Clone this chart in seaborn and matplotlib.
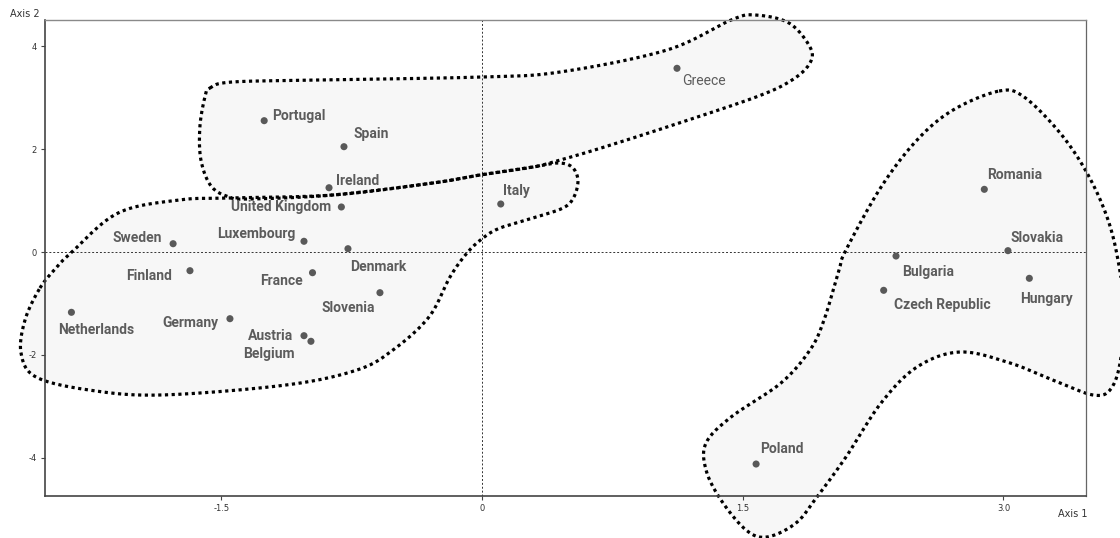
import numpy as np
import pandas as pd
import matplotlib
matplotlib.use("Agg")
import matplotlib.pyplot as plt
import seaborn as sns

countries = ["Portugal", "Spain", "Ireland", "United Kingdom", "Italy", "Greece",
             "Sweden", "Luxembourg", "Denmark", "Finland", "France", "Slovenia",
             "Netherlands", "Germany", "Austria", "Belgium",
             "Romania", "Slovakia", "Bulgaria", "Czech Republic", "Hungary", "Poland"]
axis1 = [-1.253, -0.794, -0.880, -0.809, 0.108, 1.122,
         -1.777, -1.024, -0.771, -1.680, -0.975, -0.587,
         -2.362, -1.450, -1.024, -0.984,
         2.890, 3.026, 2.382, 2.311, 3.149, 1.577]
axis2 = [2.550, 2.045, 1.248, 0.874, 0.932, 3.567,
         0.161, 0.208, 0.064, -0.363, -0.402, -0.790,
         -1.171, -1.295, -1.625, -1.734,
         1.217, 0.026, -0.078, -0.744, -0.511, -4.117]

# cluster outlines (axis units)
south_x = [-1.565, -1.438, -0.926, 0.0, 0.449, 1.064, 1.433, 1.571, 1.766, 1.887, 1.887, 1.784,
           1.577, 1.064, 0.667, 0.449, 0.293, -0.012, -0.282, -0.857, -1.335, -1.456, -1.559,
           -1.617, -1.623, -1.594]
south_y = [3.184, 3.301, 3.340, 3.398, 3.495, 3.922, 4.505, 4.602, 4.447, 3.981, 3.670, 3.340,
           3.010, 2.427, 2.000, 1.786, 1.650, 1.495, 1.340, 1.107, 1.029, 1.068, 1.282,
           1.786, 2.427, 3.010]
west_x = [-2.543, -2.445, -2.365, -2.094, -1.743, -1.456, -0.857, -0.282, -0.012, 0.293, 0.437,
          0.518, 0.552, 0.529, 0.466, 0.293, 0.104, 0.006, -0.086, -0.184, -0.305, -0.512,
          -0.719, -1.128, -1.847, -2.261, -2.566, -2.652, -2.629]
west_y = [-0.699, -0.291, -0.019, 0.757, 1.010, 1.049, 1.107, 1.340, 1.495, 1.650, 1.728,
          1.650, 1.398, 1.068, 0.854, 0.660, 0.466, 0.272, -0.019, -0.485, -1.262, -1.903,
          -2.291, -2.583, -2.777, -2.680, -2.427, -1.961, -1.320]
east_x = [2.975, 3.119, 3.326, 3.481, 3.596, 3.659, 3.694, 3.671, 3.613, 3.516, 3.326, 3.038,
          2.750, 2.503, 2.296, 2.094, 1.927, 1.807, 1.640, 1.519, 1.375, 1.289, 1.289, 1.433,
          1.720, 1.887, 1.968, 2.054, 2.094, 2.296, 2.503, 2.710]
east_y = [3.126, 3.010, 2.311, 1.534, 0.680, -0.155, -1.126, -2.155, -2.680, -2.777, -2.544,
          -2.155, -1.942, -2.233, -2.932, -3.981, -4.757, -5.262, -5.534, -5.398, -4.816,
          -4.233, -3.709, -3.204, -2.544, -1.903, -1.320, -0.350, 0.039, 1.262, 2.175, 2.757]

# label placement: (dx, dy) in pixels, horizontal alignment
label_pos = {
    "Portugal": (8, 5, "left"), "Spain": (10, 13, "left"), "Ireland": (7, 7, "left"),
    "United Kingdom": (-10, 0, "right"), "Italy": (2, 13, "left"), "Greece": (5, -13, "left"),
    "Sweden": (-11, 6, "right"), "Luxembourg": (-8, 7, "right"), "Denmark": (2, -18, "left"),
    "Finland": (-18, -5, "right"), "France": (-10, -8, "right"), "Slovenia": (-5, -15, "right"),
    "Netherlands": (25, -18, "center"), "Germany": (-11, -4, "right"), "Austria": (-11, 0, "right"),
    "Belgium": (-16, -13, "right"), "Romania": (3, 14, "left"), "Slovakia": (3, 13, "left"),
    "Bulgaria": (6, -16, "left"), "Czech Republic": (10, -15, "left"), "Hungary": (-9, -21, "left"),
    "Poland": (4, 15, "left"),
}


def smooth_closed(xs, ys, n=24):
    # closed Catmull-Rom curve through the outline points
    p = np.column_stack([xs, ys])
    N = len(p)
    t = np.linspace(0, 1, n, endpoint=False)[:, None]
    segs = []
    for i in range(N):
        p0, p1, p2, p3 = p[i - 1], p[i], p[(i + 1) % N], p[(i + 2) % N]
        segs.append(0.5 * (2 * p1 + (p2 - p0) * t + (2 * p0 - 5 * p1 + 4 * p2 - p3) * t ** 2
                           + (3 * p1 - p0 - 3 * p2 + p3) * t ** 3))
    out = np.vstack(segs)
    out = np.vstack([out, out[:1]])
    return out[:, 0], out[:, 1]


df = pd.DataFrame({"country": countries, "axis1": axis1, "axis2": axis2})

sns.set_theme(style="ticks")
plt.rcParams['font.family'] = ['Roboto', 'DejaVu Sans']
plt.rcParams['axes.unicode_minus'] = False

fig = plt.figure(figsize=(11.2, 5.38), dpi=100)
ax = fig.add_axes([45 / 1120, 1 - 496 / 538, (1086 - 45) / 1120, (496 - 20) / 538])

outlines = [(south_x, south_y), (west_x, west_y), (east_x, east_y)]
for xs, ys in outlines:
    sx, sy = smooth_closed(xs, ys)
    ax.fill(sx, sy, color="#f7f7f7", zorder=1, clip_on=False)
for xs, ys in outlines:
    sx, sy = smooth_closed(xs, ys)
    ax.plot(sx, sy, color="black", lw=2.3, ls=(0, (1, 1.1)), dash_capstyle="butt",
            zorder=3, clip_on=False)

ax.axhline(0, color="#333333", lw=0.7, ls=(0, (2, 2)), zorder=2)
ax.axvline(0, color="#333333", lw=0.7, ls=(0, (2, 2)), zorder=2)

sns.scatterplot(data=df, x="axis1", y="axis2", color="#595959", s=26, edgecolor="none",
                legend=False, ax=ax, zorder=4)

for _, row in df.iterrows():
    dx, dy, ha = label_pos[row["country"]]
    ax.annotate(row["country"], (row["axis1"], row["axis2"]), xytext=(dx, dy),
                textcoords="offset pixels", ha=ha, va="center", fontsize=10,
                fontweight="normal" if row["country"] == "Greece" else "bold",
                color="#5c5c5c", zorder=5, annotation_clip=False)

ax.set_xlim(-2.514, 3.475)
ax.set_ylim(-4.738, 4.505)
ax.set_xticks([-1.5, 0, 1.5, 3.0])
ax.set_xticklabels(["-1.5", "0", "1.5", "3.0"])
ax.set_yticks([-4, -2, 0, 2, 4])
ax.set_xlabel("")
ax.set_ylabel("")
ax.tick_params(labelsize=6, length=3, width=0.8, color="#444444", labelcolor="#333333", pad=3)
for lab in ax.get_xticklabels() + ax.get_yticklabels():
    lab.set_fontfamily("DejaVu Sans")
ax.xaxis.set_zorder(7)
ax.yaxis.set_zorder(7)

for name, sp in ax.spines.items():
    sp.set_zorder(6)
    sp.set_visible(True)
ax.spines["left"].set_color("#444444")
ax.spines["bottom"].set_color("#444444")
ax.spines["left"].set_linewidth(1.2)
ax.spines["bottom"].set_linewidth(1.2)
ax.spines["top"].set_color("#8a8a8a")
ax.spines["right"].set_color("#666666")
ax.spines["top"].set_linewidth(1.0)
ax.spines["right"].set_linewidth(0.9)

fig.text(10 / 1120, 1 - 14 / 538, "Axis 2", fontsize=7, color="#333333", va="center",
         family=["DejaVu Sans"])
fig.text(1088 / 1120, 1 - 514 / 538, "Axis 1", fontsize=7, color="#333333", va="center",
         ha="right", family=["DejaVu Sans"])

fig.savefig("out.png", dpi=100)
